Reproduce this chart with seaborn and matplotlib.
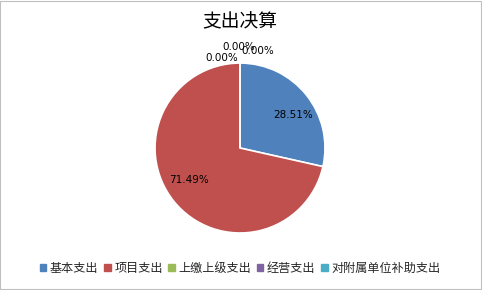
import matplotlib
matplotlib.use("Agg")
import matplotlib.pyplot as plt
import seaborn as sns
from matplotlib.patches import Rectangle

sns.set_theme(style="white")
plt.rcParams['font.family'] = ['Noto Sans CJK SC', 'DejaVu Sans']

categories = ["基本支出", "项目支出", "上缴上级支出", "经营支出", "对附属单位补助支出"]
values = [28.51, 71.49, 0.0, 0.0, 0.0]
colors = ["#4F81BD", "#C0504D", "#9BBB59", "#8064A2", "#4BACC6"]
title = "支出决算"

fig = plt.figure(figsize=(4.82, 2.90), dpi=100)
fig.patches.append(Rectangle((0.001, 0.002), 0.997, 0.995, transform=fig.transFigure,
                             fill=False, edgecolor="#BFBFBF", linewidth=0.8))
ax = fig.add_axes([0.3216, 0.1966, 0.3527, 0.586])
wedges, texts, autotexts = ax.pie(values, colors=colors, startangle=90, counterclock=False,
                                  autopct="%.2f%%", pctdistance=0.75,
                                  wedgeprops=dict(edgecolor="white", linewidth=1.2),
                                  textprops=dict(fontsize=7.5, color="black", family=['DejaVu Sans']))
ax.set_aspect("equal")
ax.set_xlim(-1, 1)
ax.set_ylim(-1, 1)

# reposition labels to match reference layout
offsets = [(0.62, 0.39), (-0.60, -0.38), (-0.21, 1.06), (-0.02, 1.19), (0.21, 1.14)]
for t, off in zip(autotexts, offsets):
    t.set_position(off)
    t.set_ha("center")
    t.set_va("center")

fig.text(0.498, 0.924, title, ha="center", va="center", fontsize=13.5, color="#000000")

handles = [plt.Rectangle((0, 0), 1, 1, color=c) for c in colors]
fig.legend(handles, categories, loc="center", bbox_to_anchor=(0.498, 0.075), ncol=5,
           frameon=False, fontsize=8.7, handlelength=0.55, handleheight=0.55,
           handletextpad=0.3, columnspacing=0.45)

fig.savefig("out.png", dpi=100)
